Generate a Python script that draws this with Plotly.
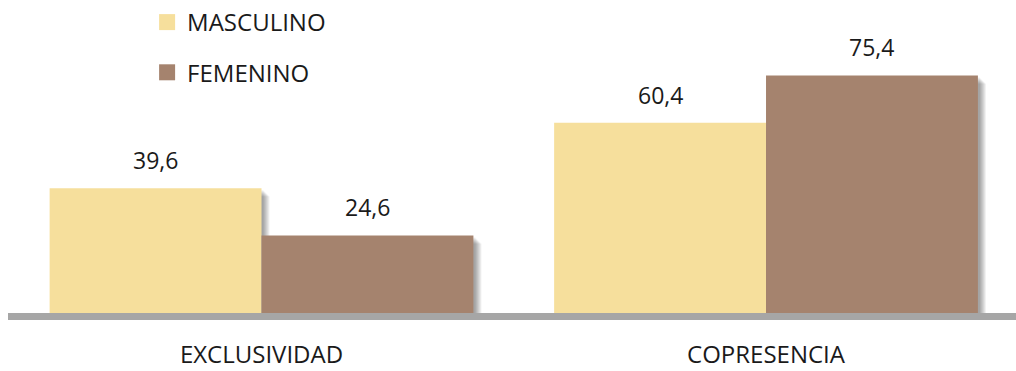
import plotly.graph_objects as go

# Categories and series values
categories = ["EXCLUSIVIDAD", "COPRESENCIA"]
masculino = [39.6, 60.4]
femenino = [24.6, 75.4]
series_names = ["MASCULINO", "FEMENINO"]

COL_M = "#F6DF9C"
COL_F = "#A5836E"
AXIS_GREY = "#A6A6A6"
TEXT = "#1a1a1a"
FONT = "Open Sans"

x_pos = list(range(len(categories)))
BAR_W = 0.42
OFFSETS = [-BAR_W, 0.0]

# pixel-to-data helpers for the soft drop shadow under each bar
PX_X = 1 / 504.5
PX_Y = 89.5 / 283

fig = go.Figure()

# soft shadow: stacked translucent copies nudged right and down
for s in range(2, 9):
    for vals, off in zip([masculino, femenino], OFFSETS):
        fig.add_trace(go.Bar(
            x=x_pos, y=[v - s * PX_Y for v in vals],
            width=BAR_W, offset=off + s * PX_X,
            marker=dict(color="rgba(0,0,0,0.06)", line=dict(width=0)),
            showlegend=False, hoverinfo="skip",
        ))

for vals, off, col in zip([masculino, femenino], OFFSETS, [COL_M, COL_F]):
    fig.add_trace(go.Bar(
        x=x_pos, y=vals, width=BAR_W, offset=off,
        marker=dict(color=col, line=dict(width=0)),
        showlegend=False,
    ))

# legend entries with large square swatches
for name, col, grp in zip(series_names, [COL_M, COL_F], ["g1", "g2"]):
    fig.add_trace(go.Scatter(
        x=[None], y=[None], mode="markers", name=name, legendgroup=grp,
        marker=dict(symbol="square", size=16, color=col),
    ))

# value labels above each bar
for vals, off in zip([masculino, femenino], OFFSETS):
    for xi, v in zip(x_pos, vals):
        fig.add_annotation(
            x=xi + off + BAR_W / 2, y=v, text=f"{v:.1f}".replace(".", ","),
            showarrow=False, yanchor="middle", yshift=28,
            font=dict(family=FONT, size=23, color=TEXT),
        )

fig.update_layout(
    width=1016, height=371,
    margin=dict(l=8, r=0, t=30, b=58),
    paper_bgcolor="white", plot_bgcolor="white",
    barmode="overlay",
    font=dict(family=FONT, color=TEXT),
    showlegend=True,
    legend=dict(
        x=0.138, y=1.11, xanchor="left", yanchor="top",
        font=dict(family=FONT, size=24, color=TEXT),
        tracegroupgap=16, bgcolor="rgba(0,0,0,0)",
    ),
    xaxis=dict(
        range=[-0.5025, 1.4955],
        tickvals=x_pos, ticktext=categories,
        showgrid=False, zeroline=False,
        showline=True, linecolor=AXIS_GREY, linewidth=7,
        ticks="", tickfont=dict(family=FONT, size=24, color=TEXT),
        ticklabelstandoff=14,
        fixedrange=True,
    ),
    yaxis=dict(
        range=[0, 89.5], visible=False, showgrid=False, zeroline=False,
        fixedrange=True,
    ),
)

fig.write_html("out.html")
